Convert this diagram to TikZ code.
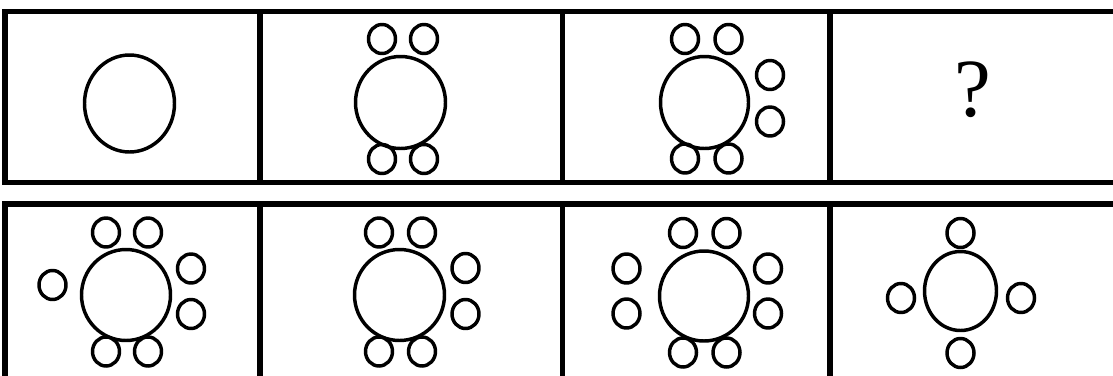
\documentclass[tikz,border=0pt]{standalone}
\usepackage{fontspec}
\setmainfont{Liberation Serif}
\begin{document}
\begin{tikzpicture}[x=0.75pt,y=-0.75pt,
  frame/.style={line width=4.2pt,line cap=rect},
  ring/.style={line width=2.6pt},
]
\useasboundingbox (0,0) rectangle (1113,375);
% frames
\draw[frame] (5,11.5) -- (1120,11.5);
\draw[frame] (5,182.5) -- (1120,182.5);
\foreach \x in {5,260,562.5,830} \draw[frame] (\x,11.5) -- (\x,182.5);
\draw[frame] (5,204) -- (1120,204);
\foreach \x in {5,260,562.5,830} \draw[frame] (\x,204) -- (\x,380);
% top panel 1
\draw[ring] (129.5,103.5) ellipse [x radius=45, y radius=48.5];
% top panel 2
\draw[ring] (400.5,102.5) ellipse [x radius=45, y radius=46];
\foreach \p in {(382,39),(424,39),(382,159),(424,159)} \draw[ring] \p ellipse [x radius=13.5, y radius=14.5];
% top panel 3
\draw[ring] (704.5,102.5) ellipse [x radius=44, y radius=46];
\foreach \p in {(685,39),(728.5,39),(685,158.5),(728.5,158.5),(770,75),(770,121.5)} \draw[ring] \p ellipse [x radius=13.5, y radius=14.5];
% top panel 4
\node[font=\fontsize{62}{62}\selectfont, inner sep=0pt] (q) at (973,90) {?};
% bottom panel 1
\draw[ring] (126,295) ellipse [x radius=44.5, y radius=45.5];
\foreach \p in {(106,232.5),(148,232.5),(106,351.5),(148,351.5),(52.5,285),(191,268.5),(191,314)} \draw[ring] \p ellipse [x radius=13.5, y radius=14.5];
% bottom panel 2
\draw[ring] (399.5,295) ellipse [x radius=45, y radius=45.5];
\foreach \p in {(379,232.5),(422,232.5),(379,351.5),(422,351.5),(465.5,268),(465.5,314)} \draw[ring] \p ellipse [x radius=13.5, y radius=14.5];
% bottom panel 3
\draw[ring] (704,296) ellipse [x radius=44.5, y radius=45];
\foreach \p in {(683,233),(726.5,233),(683,352.5),(726.5,352.5),(626.5,268.5),(626.5,313.5),(768,268.5),(768,313.5)} \draw[ring] \p ellipse [x radius=13.5, y radius=14.5];
% bottom panel 4
\draw[ring] (960.5,291) ellipse [x radius=36, y radius=39.5];
\foreach \p in {(960.5,233),(960.5,353),(901,298),(1021,298)} \draw[ring] \p ellipse [x radius=13.5, y radius=14.5];
\end{tikzpicture}
\end{document}
